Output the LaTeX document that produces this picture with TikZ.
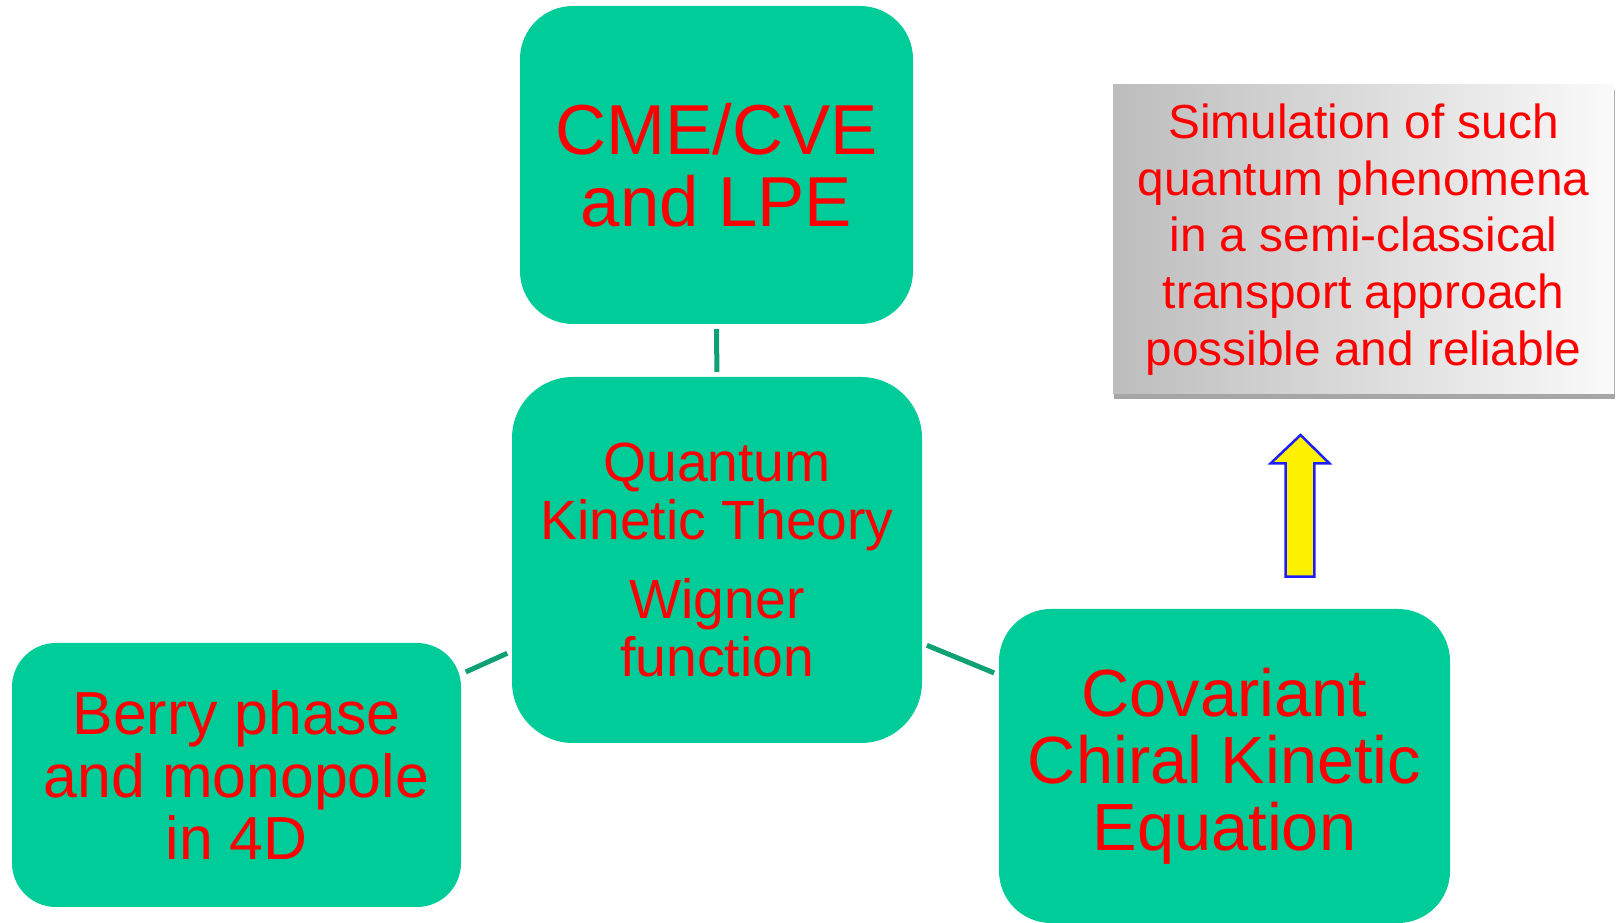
\documentclass[tikz,border=0pt]{standalone}
\usepackage{fontspec}
\setmainfont{Liberation Sans}
\usetikzlibrary{shadows}
\definecolor{boxgreen}{RGB}{0,204,153}
\definecolor{linkgreen}{RGB}{16,160,118}
\definecolor{arrowblue}{RGB}{30,30,255}
\tikzset{
  topic/.style={fill=boxgreen,draw=none,text=red,align=center,inner sep=0pt},
  link/.style={draw=linkgreen,line width=5bp,shorten <=5bp,shorten >=5bp},
  note/.style={left color=black!26,right color=black!2,draw=none,text=red,align=center,inner sep=0pt,
    drop shadow={shadow xshift=1bp,shadow yshift=-5bp,opacity=0.35,fill=black}},
}
\begin{document}
\begin{tikzpicture}[>=latex,line join=bevel,]
\useasboundingbox (0bp,0bp) rectangle (1616bp,923bp);
%%
\node (cme) at (716.5bp,758bp) [topic,minimum width=393bp,minimum height=318bp,rounded corners=53bp,
  font=\fontsize{71}{72}\selectfont] {CME/CVE\\and LPE};
  \node (qkt) at (717bp,363bp) [topic,minimum width=410bp,minimum height=366bp,rounded corners=61bp,
  font=\fontsize{55.5}{58}\selectfont] {Quantum\\Kinetic Theory\\[21bp]Wigner\\function};
  \node (berry) at (236.5bp,148bp) [topic,minimum width=449bp,minimum height=264bp,rounded corners=44bp,
  font=\fontsize{61}{63}\selectfont] {Berry phase\\and monopole\\in 4D};
  \node (ccke) at (1224.5bp,157bp) [topic,minimum width=451bp,minimum height=314bp,rounded corners=52bp,
  font=\fontsize{67}{67.5}\selectfont] {Covariant\\Chiral Kinetic\\Equation};
  \node (sim) at (1363.5bp,683.5bp) [note,minimum width=501bp,minimum height=309bp,
  font=\fontsize{48}{57}\selectfont] {Simulation of such\\quantum phenomena\\in a semi-classical\\transport approach\\possible and reliable};
  \draw [link] (cme) -- (qkt);
  \draw [link] (berry) -- (qkt);
  \draw [link] (qkt) -- (ccke);
%
\draw [fill=yellow,draw=arrowblue,line width=2.5bp,line join=miter]
  (1300.5bp,488bp) -- (1329.3bp,459.7bp) -- (1314.3bp,459.7bp) -- (1314.3bp,346.3bp)
  -- (1285.7bp,346.3bp) -- (1285.7bp,459.7bp) -- (1270.7bp,459.7bp) -- cycle;
%
\end{tikzpicture}
\end{document}
